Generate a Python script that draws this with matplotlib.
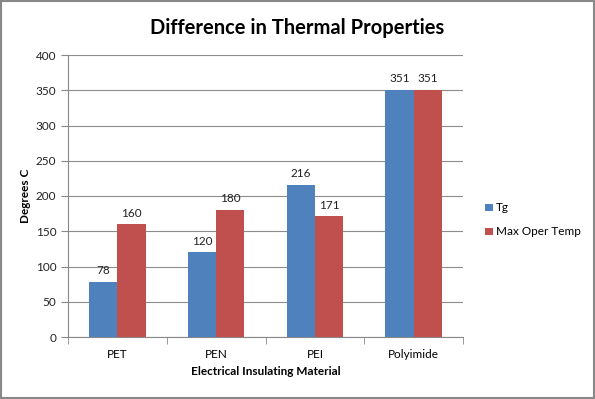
import numpy as np
import matplotlib.pyplot as plt
from matplotlib.patches import Rectangle

materials = ['PET', 'PEN', 'PEI', 'Polyimide']
tg = [78, 120, 216, 351]
max_oper = [160, 180, 171, 351]

plt.rcParams['font.family'] = ['Lato', 'DejaVu Sans']

fig = plt.figure(figsize=(5.95, 3.99), dpi=100)
ax = fig.add_axes([68/595, 62/399, 395/595, 282/399])

x = np.arange(len(materials))
w = 0.285
blue = '#4F81BD'
red = '#C0504D'
b1 = ax.bar(x - w/2, tg, w, color=blue, label='Tg', zorder=3)
b2 = ax.bar(x + w/2, max_oper, w, color=red, label='Max Oper Temp', zorder=3)

for bars, vals in [(b1, tg), (b2, max_oper)]:
    for b, v in zip(bars, vals):
        ax.text(b.get_x() + b.get_width()/2, v + 8, str(v), ha='center', va='bottom',
                fontsize=8.5, color='#222222')

ax.set_xlim(-0.5, len(materials) - 0.5)
ax.set_ylim(0, 400)
ax.set_yticks(range(0, 401, 50))
ax.set_xticks(x)
ax.set_xticklabels(materials)
ax.set_xticks(np.arange(-0.5, len(materials), 1), minor=True)
ax.tick_params(axis='x', which='major', length=0, labelsize=8.5, pad=9)
ax.tick_params(axis='x', which='minor', length=5, color='#888888', direction='out')
ax.tick_params(axis='y', length=5, color='#888888', labelsize=8.5, labelcolor='#222222')
ax.yaxis.grid(True, color='#8c8c8c', linewidth=0.8, zorder=0)
for s in ['top', 'right']:
    ax.spines[s].set_visible(False)
for s in ['left', 'bottom']:
    ax.spines[s].set_color('#888888')

ax.set_ylabel('Degrees C', fontsize=8.5, fontweight='bold', labelpad=3)
ax.set_xlabel('Electrical Insulating Material', fontsize=8.5, fontweight='bold', labelpad=4)
fig.suptitle('Difference in Thermal Properties', x=0.5, y=0.955, fontsize=14.5, fontweight='bold')

ax.legend(loc='center left', bbox_to_anchor=(1.03, 0.415), frameon=False, fontsize=8.5,
          handlelength=0.6, handleheight=0.6, handletextpad=0.3, labelspacing=1.1)

fig.patches.append(Rectangle((0.002, 0.002), 0.996, 0.996, transform=fig.transFigure,
                             fill=False, edgecolor='#888888', linewidth=1.5))

fig.savefig('out.png', dpi=100)
